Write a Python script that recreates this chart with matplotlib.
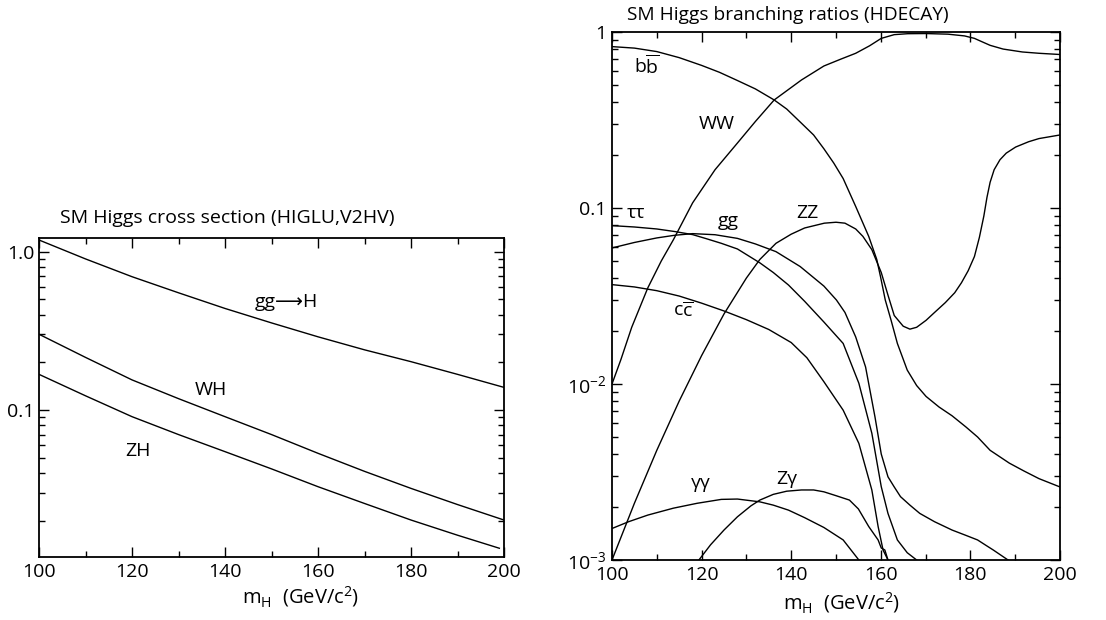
import numpy as np
import matplotlib
matplotlib.use("Agg")
import matplotlib.pyplot as plt
from matplotlib.ticker import FixedLocator, NullFormatter, LogLocator, MultipleLocator

plt.rcParams['font.family'] = ['Open Sans', 'DejaVu Sans']
plt.rcParams['mathtext.fontset'] = 'custom'
plt.rcParams['mathtext.rm'] = 'Open Sans'
plt.rcParams['mathtext.it'] = 'Open Sans'

# --- cross sections (left panel) ---
mh_xs = [100, 110, 120, 130, 140, 150, 160, 170, 180, 190, 200]
xs_ggH = [1.185, 0.90, 0.695, 0.55, 0.438, 0.355, 0.290, 0.240, 0.202, 0.168, 0.139]
xs_WH = [0.301, 0.215, 0.155, 0.118, 0.0908, 0.070, 0.0533, 0.041, 0.032, 0.0253, 0.0202]
mh_zh = [100, 110, 120, 130, 140, 150, 160, 170, 180, 190, 199]
xs_ZH = [0.168, 0.123, 0.0908, 0.070, 0.0546, 0.0425, 0.0328, 0.0257, 0.0202, 0.0162, 0.0134]

# --- branching ratios (right panel) ---
mh_bb = [100, 105, 110, 115, 120, 124, 128, 132, 136.2, 139, 142.3, 145, 147.3, 149.5,
         151.6, 154.4, 157.3, 159.1, 160, 161, 162.3, 163.7, 165.9, 168, 170.1, 173, 175.9,
         179, 181.6, 184.4, 188.7, 192, 195.3, 200]
br_bb = [0.826, 0.81, 0.774, 0.715, 0.646, 0.59, 0.53, 0.475, 0.411, 0.365, 0.303, 0.26,
         0.217, 0.18, 0.147, 0.102, 0.069, 0.051, 0.040, 0.030, 0.023, 0.017, 0.012, 0.0098,
         0.0085, 0.0074, 0.0066, 0.0057, 0.0050, 0.0042, 0.00355, 0.0032, 0.0029, 0.0026]

mh_ww = [100, 102, 104.4, 108, 111, 113.7, 118, 123, 128, 132, 136.2, 142.3, 147.3, 151,
         154.4, 157.5, 160.1, 163, 166, 170, 175, 178.7, 180.9, 182.6, 184.4, 187.3, 191.6,
         195.3, 200]
br_ww = [0.010, 0.0138, 0.021, 0.0352, 0.050, 0.066, 0.107, 0.165, 0.234, 0.31, 0.411,
         0.534, 0.641, 0.70, 0.757, 0.835, 0.92, 0.966, 0.978, 0.98, 0.972, 0.95, 0.92, 0.88,
         0.84, 0.80, 0.77, 0.757, 0.745]

mh_zz = [100, 105, 110, 115, 120, 125, 130, 133, 136.6, 140, 143, 147.4, 150, 152, 154.4,
         156, 158, 160.1, 161.6, 163, 165, 166.5, 168, 170.1, 172, 174.4, 176.5, 178, 179.5,
         180.9, 182, 183, 183.7, 184.4, 185.3, 186.6, 188, 190.1, 193, 195.3, 200]
br_zz = [0.001, 0.0021, 0.0042, 0.0080, 0.0145, 0.025, 0.040, 0.051, 0.063, 0.071, 0.077,
         0.082, 0.083, 0.082, 0.076, 0.069, 0.058, 0.043, 0.032, 0.0245, 0.0213, 0.0205,
         0.021, 0.023, 0.0255, 0.029, 0.033, 0.0376, 0.044, 0.053, 0.068, 0.09, 0.115, 0.14,
         0.165, 0.188, 0.205, 0.222, 0.238, 0.248, 0.26]

mh_tautau = [100, 105, 110, 114, 118, 121, 124.4, 128, 133, 136, 139.4, 143, 147.3, 151.6,
             155.1, 158, 160.1, 161.6, 163.7, 165.9, 168]
br_tautau = [0.0794, 0.078, 0.076, 0.0735, 0.0706, 0.067, 0.063, 0.0585, 0.0488, 0.043,
             0.0365, 0.0295, 0.0225, 0.017, 0.0101, 0.00525, 0.00261, 0.00184, 0.0013,
             0.0011, 0.001]

mh_gg = [100, 105, 110, 114, 118, 123, 128, 132, 136.6, 142, 147.3, 150.1, 152, 154.4,
         156.6, 158.7, 160.1, 161.6, 163, 164.4, 166.5, 168.7, 172, 175.9, 179, 181.6, 183.5,
         185.1, 188.4]
br_gg = [0.0593, 0.0637, 0.0676, 0.070, 0.0715, 0.0705, 0.0672, 0.0625, 0.0565, 0.0465,
         0.036, 0.030, 0.0255, 0.0185, 0.0125, 0.0065, 0.0040, 0.00297, 0.0026, 0.00229,
         0.00205, 0.00184, 0.00165, 0.00148, 0.00138, 0.0013, 0.00121, 0.00114, 0.001]

mh_cc = [100, 105, 110, 115, 120, 125, 130, 135, 140, 143.5, 147.3, 151.6, 155.1, 158,
         159.4, 160.5, 161.6]
br_cc = [0.0367, 0.0356, 0.0339, 0.0316, 0.0288, 0.026, 0.0232, 0.0204, 0.0172, 0.0141,
         0.0103, 0.0071, 0.0046, 0.0025, 0.00155, 0.00114, 0.001]

mh_gamgam = [100, 103.7, 108, 113.7, 119, 124.4, 128, 133, 136, 139.4, 143, 147.3, 151.6,
             155.1]
br_gamgam = [0.00151, 0.00165, 0.0018, 0.00197, 0.0021, 0.00221, 0.00222, 0.00214, 0.00205,
             0.00192, 0.00174, 0.00153, 0.0013, 0.001]

mh_zgam = [119.4, 122, 125, 128, 131, 133, 136, 139, 142.3, 145, 147.3, 150, 153, 155,
           157.3, 159.4, 160.1, 160.9, 161.6]
br_zgam = [0.001, 0.00122, 0.00148, 0.00176, 0.00203, 0.00219, 0.00236, 0.00246, 0.0025,
           0.0025, 0.00244, 0.00232, 0.00219, 0.00195, 0.00155, 0.0013, 0.00117, 0.00114,
           0.001]

fs = 14
fig = plt.figure(figsize=(11.06, 6.2), dpi=100)
ax1 = fig.add_axes([39/1106, 1-557/620, 465/1106, 319/620])
ax2 = fig.add_axes([612/1106, 1-560/620, 448/1106, 528/620])

for ax in (ax1, ax2):
    ax.set_yscale('log')
    ax.set_xlim(100, 200)
    ax.xaxis.set_major_locator(MultipleLocator(20))
    ax.xaxis.set_minor_locator(MultipleLocator(10))
    ax.yaxis.set_minor_locator(LogLocator(base=10, subs=np.arange(2, 10)))
    ax.yaxis.set_minor_formatter(NullFormatter())
    ax.tick_params(which='both', direction='in', top=True, right=True, labelsize=fs, width=1.0)
    ax.tick_params(which='major', length=7)
    ax.tick_params(which='minor', length=4)
    for s in ax.spines.values():
        s.set_linewidth(1.3)

# left panel
ax1.set_ylim(0.0118, 1.22)
ax1.yaxis.set_major_locator(FixedLocator([0.1, 1.0]))
ax1.set_yticklabels(['0.1', '1.0'])
ax1.tick_params(axis='x', pad=4)
ax1.tick_params(axis='y', pad=3)
ax1.plot(mh_xs, xs_ggH, color='black', lw=1.0)
ax1.plot(mh_xs, xs_WH, color='black', lw=1.0)
ax1.plot(mh_zh, xs_ZH, color='black', lw=1.0)
ax1.text(146.5, 0.449, 'gg\u27f6H', fontsize=fs, va='baseline')
ax1.text(133.5, 0.1244, 'WH', fontsize=fs, va='baseline')
ax1.text(118.5, 0.0512, 'ZH', fontsize=fs, va='baseline')
ax1.text(0.045, 1.063, 'SM Higgs cross section (HIGLU,V2HV)', transform=ax1.transAxes,
         fontsize=14, va='center')
ax1.text(0.563, -0.125, r'm$_\mathrm{H}$  (GeV/c$^2$)', transform=ax1.transAxes,
         fontsize=14.5, ha='center', va='center')

# right panel
ax2.set_ylim(1e-3, 1)
ax2.yaxis.set_major_locator(FixedLocator([1e-3, 1e-2, 0.1, 1]))
ax2.set_yticklabels([r'10$^{-3}$', r'10$^{-2}$', '0.1', '1'])
ax2.tick_params(axis='x', pad=4)
ax2.tick_params(axis='y', pad=4)
for xv, yv in [(mh_bb, br_bb), (mh_ww, br_ww), (mh_zz, br_zz), (mh_tautau, br_tautau),
               (mh_gg, br_gg), (mh_cc, br_cc), (mh_gamgam, br_gamgam), (mh_zgam, br_zgam)]:
    ax2.plot(xv, yv, color='black', lw=1.0)

ax2.text(104.8, 0.583, r'b$\overline{\mathrm{b}}$', fontsize=fs, va='baseline')
ax2.text(119.4, 0.2805, 'WW', fontsize=fs, va='baseline')
ax2.text(103.4, 0.0878, '\u03c4\u03c4', fontsize=fs, va='baseline')
ax2.text(123.7, 0.0787, 'gg', fontsize=fs, va='baseline')
ax2.text(141.2, 0.0878, 'ZZ', fontsize=fs, va='baseline')
ax2.text(113.7, 0.0243, r'c$\overline{\mathrm{c}}$', fontsize=fs, va='baseline')
ax2.text(117.6, 0.00255, '\u03b3\u03b3', fontsize=fs, va='baseline')
ax2.text(136.6, 0.00272, 'Z\u03b3', fontsize=fs, va='baseline')
ax2.text(0.033, 1.032, 'SM Higgs branching ratios (HDECAY)', transform=ax2.transAxes,
         fontsize=13.8, va='center')
ax2.text(0.513, -0.08, r'm$_\mathrm{H}$  (GeV/c$^2$)', transform=ax2.transAxes,
         fontsize=14.5, ha='center', va='center')

fig.savefig('out.png', dpi=100)
